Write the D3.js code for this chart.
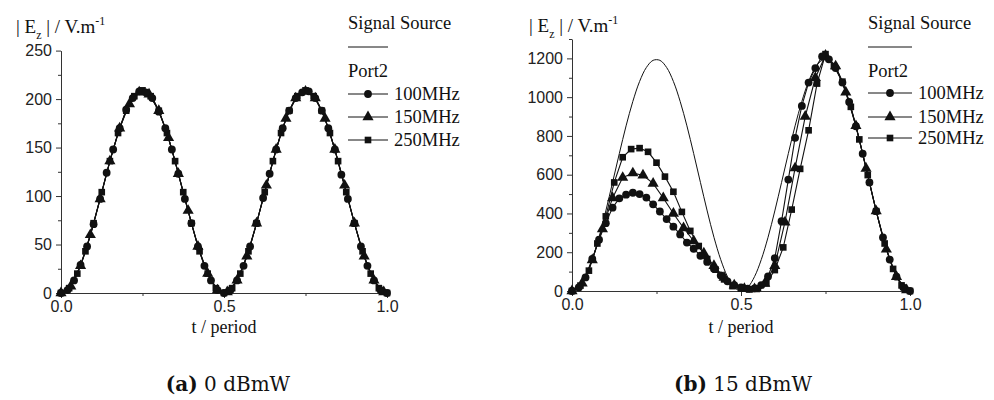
<!DOCTYPE html>
<html><head><meta charset="utf-8">
<script src="https://cdn.jsdelivr.net/npm/d3@7"></script>
<style>body{margin:0;background:#fff}</style>
</head><body>
<svg id="c" width="994" height="400" xmlns="http://www.w3.org/2000/svg"></svg>
<script>
// ---- sampling grids (t / period) ----
const tCircle = [0,.02,.04,.06,.08,.1,.12,.14,.16,.18,.2,.22,.24,.26,.28,.3,.32,.34,.36,.38,.4,.42,.44,.46,.48,.5,.52,.54,.56,.58,.6,.62,.64,.66,.68,.7,.72,.74,.76,.78,.8,.82,.84,.86,.88,.9,.92,.94,.96,.98,1];
const tTriangle = [0,.03,.06,.09,.12,.15,.18,.21,.24,.27,.3,.33,.36,.39,.42,.45,.48,.51,.54,.57,.6,.63,.66,.69,.72,.75,.78,.81,.84,.87,.9,.93,.96,.99];
const tSquare = [0,.025,.05,.075,.1,.125,.15,.175,.2,.225,.25,.275,.3,.325,.35,.375,.4,.425,.45,.475,.5,.525,.55,.575,.6,.625,.65,.675,.7,.725,.75,.775,.8,.825,.85,.875,.9,.925,.95,.975,1];
const tSource = tCircle;

// ---- (a) 0 dBmW ----
const aSource = [0,3,13,28,48,72,97,123,148,170,188,201,207,207,201,188,170,148,123,97,72,48,28,13,3,0,3,13,28,48,72,97,123,148,170,188,201,207,207,201,188,170,148,123,97,72,48,28,13,3,0];
const a100 = [0,3,13,29,48,71,97,124,148,170,189,201,208,207,201,187,170,148,123,97,72,48,28,13,3,0,3,13,28,48,72,98,123,148,170,188,201,207,208,201,188,170,148,122,97,72,48,28,13,3,0];
const a150 = [0,7,28,60,97,136,170,195,207,205,188,160,123,85,48,20,3,1,13,38,72,111,148,180,201,208,201,180,148,111,72,38,13,1];
const a250 = [0,5,20,43,72,104,136,165,188,203,209,203,188,165,136,104,72,43,20,5,0,5,20,43,72,104,136,165,188,203,209,203,188,165,136,104,72,43,20,5,0];

// ---- (b) 15 dBmW ----
const bSource = [0,19,74,162,277,413,560,709,852,978,1081,1153,1190,1190,1153,1081,978,852,709,560,413,277,162,74,19,0,19,74,162,277,413,560,709,852,978,1081,1153,1190,1190,1153,1081,978,852,709,560,413,277,162,74,19,0];
const b100 = [0,18,70,165,265,350,430,478,497,507,500,482,447,410,371,332,292,250,218,182,150,115,80,50,30,18,12,14,30,75,170,360,575,790,955,1075,1150,1210,1195,1150,1075,975,850,708,560,412,276,162,74,19,0];
const b150 = [0,40,160,320,480,585,608,597,555,480,400,325,258,195,130,70,30,12,10,38,130,355,634,900,1100,1215,1160,1025,852,632,412,215,74,5];
const b250 = [0,28,105,245,385,560,690,732,737,718,662,590,512,408,310,232,165,110,60,25,12,8,15,40,108,225,420,630,829,1070,1222,1160,1080,950,782,598,412,245,114,29,0];

// ---- ticks & labels ----
const xMajor = [0, 0.5, 1];
const xMinor = [0.25, 0.75];
const aYMajor = [0,50,100,150,200,250];
const aYMinor = [25,75,125,175,225];
const bYMajor = [0,200,400,600,800,1000,1200];
const bYMinor = [100,300,500,700,900,1100,1300];
const seriesNames = ["100MHz","150MHz","250MHz"];
const sourceName = "Signal Source";
const portName = "Port2";
const xTitle = "t / period";

const svg = d3.select('#c');
svg.append('rect').attr('width',994).attr('height',400).attr('fill','#fff');
const ink = '#111', axisInk = '#333';
const serif = '"Liberation Serif","Times New Roman",serif';
const sans = '"Liberation Sans",Arial,sans-serif';

const shapes = [d3.symbolCircle, d3.symbolTriangle, d3.symbolSquare];
const sizes = [48, 54, 44];

function panel(o) {
  const g = svg.append('g');
  const x = d3.scaleLinear().domain([0,1]).range(o.xr);
  const y = d3.scaleLinear().domain(o.yd).range(o.yr);

  // axes
  g.append('g').attr('transform',`translate(0,${o.yr[0]})`)
    .attr('font-size',16).attr('font-family',sans)
    .call(d3.axisBottom(x).tickValues(xMajor).tickFormat(d3.format('.1f')).tickSize(5).tickSizeOuter(0).tickPadding(3))
    .attr('font-size',16).attr('font-family',sans);
  g.append('g').attr('transform',`translate(0,${o.yr[0]})`)
    .call(d3.axisBottom(x).tickValues(xMinor).tickFormat('').tickSize(3).tickSizeOuter(0))
    .select('.domain').remove();
  g.append('g').attr('transform',`translate(${o.xr[0]},0)`)
    .call(d3.axisLeft(y).tickValues(o.yMajor).tickFormat(d3.format('d')).tickSize(5).tickSizeOuter(0).tickPadding(4))
    .attr('font-size',16).attr('font-family',sans);
  g.append('g').attr('transform',`translate(${o.xr[0]},0)`)
    .call(d3.axisLeft(y).tickValues(o.yMinor).tickFormat('').tickSize(3).tickSizeOuter(0))
    .select('.domain').remove();
  g.selectAll('.domain, .tick line').attr('stroke',axisInk).attr('stroke-width',1);
  g.selectAll('.tick text').attr('fill','#222');

  // source line
  const srcLine = d3.line().x((d,i)=>x(tSource[i])).y(d=>y(d)).curve(d3.curveCatmullRom);
  g.append('path').attr('d',srcLine(o.src)).attr('fill','none').attr('stroke',ink).attr('stroke-width',1);

  // series (draw squares first, circles on top)
  const ts = [tCircle, tTriangle, tSquare];
  [2,1,0].forEach(k => {
    const vals = o.series[k], tt = ts[k];
    const ln = d3.line().x((d,i)=>x(tt[i])).y(d=>y(d));
    g.append('path').attr('d',ln(vals)).attr('fill','none').attr('stroke',ink).attr('stroke-width',1.1);
    g.selectAll(null).data(vals).enter().append('path')
      .attr('d', d3.symbol().type(shapes[k]).size(sizes[k]))
      .attr('transform',(d,i)=>`translate(${x(tt[i])},${y(d)})`)
      .attr('fill',ink);
  });

  // y title
  const t = g.append('text').attr('x',o.title[0]).attr('y',o.title[1])
    .style('font-family',serif).style('font-size','19px').style('white-space','pre').attr('fill',ink);
  t.append('tspan').text('| E');
  t.append('tspan').attr('dy',6).style('font-size','12px').text('z');
  t.append('tspan').attr('dy',-6).text(' | / V.m');
  t.append('tspan').attr('dy',-8).style('font-size','12px').text('-1');

  // x title
  g.append('text').attr('x',(o.xr[0]+o.xr[1])/2).attr('y',333).attr('text-anchor','middle')
    .style('font-family',serif).style('font-size','18px').attr('fill',ink).text(xTitle);

  // legend
  const L = o.leg;
  const lf = '18.5px';
  g.append('text').attr('x',L.x).attr('y',29).style('font-family',serif).style('font-size',lf).attr('fill',ink).text(sourceName);
  g.append('line').attr('x1',L.x).attr('x2',L.x+L.w).attr('y1',47).attr('y2',47).attr('stroke',ink).attr('stroke-width',1);
  g.append('text').attr('x',L.x).attr('y',77).style('font-family',serif).style('font-size',lf).attr('fill',ink).text(portName);
  seriesNames.forEach((nm,k) => {
    const yy = L.rows[k];
    g.append('line').attr('x1',L.x).attr('x2',L.x+L.w).attr('y1',yy).attr('y2',yy).attr('stroke',ink).attr('stroke-width',1);
    g.append('path').attr('d',d3.symbol().type(shapes[k]).size(sizes[k])()).attr('transform',`translate(${L.x+L.w/2},${yy})`).attr('fill',ink);
    g.append('text').attr('x',L.x+L.w+6).attr('y',yy+6).style('font-family',serif).style('font-size',lf).attr('fill',ink).text(nm);
  });

  // caption
  const c = g.append('text').attr('x',o.cap[0]).attr('y',391).attr('text-anchor','middle')
    .style('font-family','"DejaVu Serif",serif').style('font-size','20px').style('white-space','pre').attr('fill',ink);
  c.append('tspan').style('font-weight','bold').text(o.cap[1]);
  c.append('tspan').text(o.cap[2]);
}

panel({xr:[61,387], yd:[0,250], yr:[293,50.6], yMajor:aYMajor, yMinor:aYMinor,
  src:aSource, series:[a100,a150,a250], title:[16,33],
  leg:{x:348, w:40, rows:[94,117,140]}, cap:[228,'(a)',' 0 dBmW']});
panel({xr:[572,910], yd:[0,1300], yr:[291,39], yMajor:bYMajor, yMinor:bYMinor,
  src:bSource, series:[b100,b150,b250], title:[529,32],
  leg:{x:868, w:44, rows:[93,117,138]}, cap:[743,'(b)',' 15 dBmW']});
</script>
</body></html>
